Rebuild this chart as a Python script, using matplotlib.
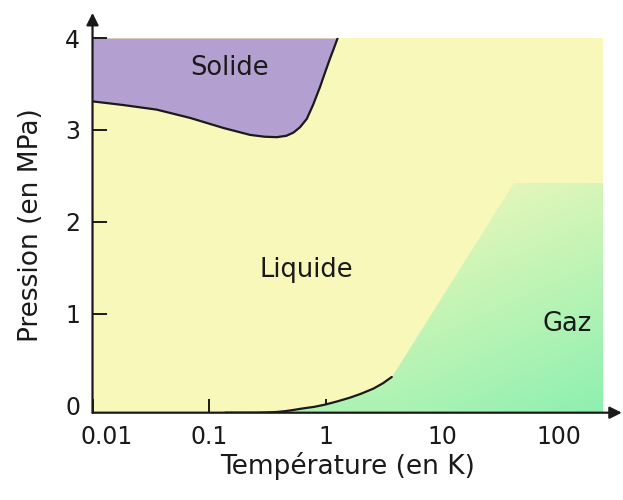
import numpy as np
import matplotlib
matplotlib.use('Agg')
import matplotlib.pyplot as plt
import matplotlib.transforms as mtransforms
from matplotlib.colors import LinearSegmentedColormap
from matplotlib.patches import Polygon

# Diagramme de phase (helium 3)
T_min, T_max = 0.01, 240
P_min, P_max = -0.08, 4.0

# Courbe de fusion (solide / liquide)
solid_T = [0.01, 0.0184, 0.0356, 0.0687, 0.133, 0.225, 0.30, 0.381, 0.46, 0.53,
           0.605, 0.69, 0.78, 0.898, 0.98, 1.094, 1.18, 1.27]
solid_P = [3.31, 3.27, 3.22, 3.13, 3.02, 2.945, 2.925, 2.92, 2.935, 2.97,
           3.03, 3.12, 3.27, 3.47, 3.61, 3.78, 3.89, 4.0]

# Courbe de vaporisation (liquide / gaz)
vap_T = [0.137, 0.25, 0.313, 0.38, 0.45, 0.52, 0.604, 0.8, 0.99, 1.25, 1.62,
         2.0, 2.57, 3.1, 3.70]
vap_P = [-0.08, -0.08, -0.077, -0.072, -0.063, -0.052, -0.038, -0.016, 0.008,
         0.042, 0.084, 0.125, 0.182, 0.24, 0.309]

# Limite (floue) de la zone gaz
gas_T = [3.70, 41, 240, 240]
gas_P = [0.309, 2.42, 2.42, -0.08]

ticks_T = [0.01, 0.1, 1, 10, 100]
ticks_T_labels = ['0.01', '0.1', '1', '10', '100']
ticks_P = [0, 1, 2, 3, 4]

labels = {'Solide': (0.15, 3.67), 'Liquide': (0.69, 1.47), 'Gaz': (118, 0.89)}

c_liq = '#f9f8bb'
c_sol = '#b4a0d0'
c_gas = '#8ff0b0'
c_line = '#1a1a1a'

fig = plt.figure(figsize=(6.23, 5.0), dpi=100)
ax = fig.add_axes([0.1485, 0.1746, 0.8193, 0.7494])
ax.set_xscale('log')
ax.set_xlim(T_min, T_max)
ax.set_ylim(P_min, P_max)

# liquide = fond
ax.fill_between([T_min, T_max], P_min, P_max, color=c_liq, lw=0, zorder=0)

# solide
ax.fill_between(solid_T, solid_P, P_max, color=c_sol, lw=0, zorder=1)

# gaz : degrade vert -> jaune
poly_T = list(vap_T) + gas_T + [vap_T[0]]
poly_P = list(vap_P) + gas_P + [P_min]
gas_poly = Polygon(np.column_stack([poly_T, poly_P]), closed=True,
                   transform=ax.transData, facecolor='none', edgecolor='none')
ax.add_patch(gas_poly)
gx = np.logspace(np.log10(T_min), np.log10(T_max), 300)
gy = np.linspace(P_min, P_max, 300)
GX, GY = np.meshgrid(gx, gy)
shade = np.clip(1 - GY / 2.6, 0, 1) * 0.72 + np.clip((np.log10(GX) - 0.56) / 1.8, 0, 1) * 0.28
cmap = LinearSegmentedColormap.from_list('gaz', [c_liq, c_gas])
mesh = ax.pcolormesh(GX, GY, shade, cmap=cmap, vmin=0, vmax=1,
                     shading='auto', zorder=2, rasterized=True)
mesh.set_clip_path(gas_poly)

# courbes
ax.plot(solid_T, solid_P, color=c_line, lw=1.6, zorder=4,
        solid_capstyle='round', solid_joinstyle='round')
ax.plot(vap_T, vap_P, color=c_line, lw=1.6, zorder=4,
        solid_capstyle='round', solid_joinstyle='round')

for name, (tx, py) in labels.items():
    ax.text(tx, py, name, fontsize=18.5, ha='center', va='center', color='#1a1a1a', zorder=5)

# axes avec fleches
for s in ax.spines.values():
    s.set_visible(False)
arrow = dict(arrowstyle='-|>', lw=1.6, color=c_line, mutation_scale=18,
             shrinkA=0, shrinkB=0)
ax.annotate('', xy=(1.037, 0), xytext=(0, 0), xycoords='axes fraction',
            arrowprops=arrow, annotation_clip=False, zorder=6)
ax.annotate('', xy=(0, 1.067), xytext=(0, 0), xycoords='axes fraction',
            arrowprops=arrow, annotation_clip=False, zorder=6)

ax.set_xticks(ticks_T)
ax.set_xticklabels(ticks_T_labels)
ax.xaxis.set_minor_locator(matplotlib.ticker.NullLocator())
ax.set_yticks(ticks_P)
ax.tick_params(direction='in', length=10, width=1.4, color=c_line,
               labelsize=17, labelcolor='#1a1a1a')
ax.tick_params(axis='x', pad=9)
ax.tick_params(axis='y', pad=9)
ax.yaxis.get_major_ticks()[0].tick1line.set_visible(False)

# le label 0.01 est decale a droite de l'axe
first = ax.get_xticklabels()[0]
first.set_transform(first.get_transform() +
                    mtransforms.ScaledTranslation(14 / 100, 0, fig.dpi_scale_trans))

ax.set_xlabel('Température (en K)', fontsize=19, color='#1a1a1a', labelpad=2)
ax.set_ylabel('Pression (en MPa)', fontsize=19, color='#1a1a1a', labelpad=15)

fig.savefig('out.png', dpi=100)
